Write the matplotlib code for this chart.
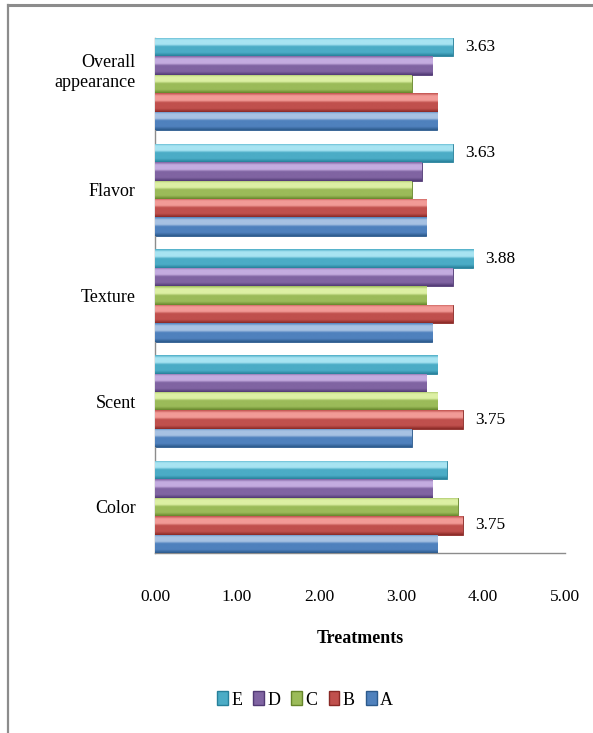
import numpy as np
import matplotlib
matplotlib.use('Agg')
import matplotlib.pyplot as plt
import matplotlib.transforms as mtransforms
from matplotlib.colors import LinearSegmentedColormap
from matplotlib.patches import Patch
from matplotlib.lines import Line2D

plt.rcParams['font.family'] = ['Liberation Serif', 'DejaVu Serif']

# attributes, bottom to top
categories = ['Color', 'Scent', 'Texture', 'Flavor', 'Overall\nappearance']
treatments = ['A', 'B', 'C', 'D', 'E']

A = [3.44, 3.13, 3.38, 3.31, 3.44]
B = [3.75, 3.75, 3.63, 3.31, 3.44]
C = [3.69, 3.44, 3.31, 3.13, 3.13]
D = [3.38, 3.31, 3.63, 3.25, 3.38]
E = [3.56, 3.44, 3.88, 3.63, 3.63]
series = [A, B, C, D, E]

# (category index, treatment index) pairs that carry a value label
labelled = [(0, 1), (1, 1), (2, 4), (3, 4), (4, 4)]

colors = ['#4F81BD', '#C0504D', '#9BBB59', '#8064A2', '#4BACC6']
lights = ['#A7C2E3', '#F29B97', '#DDF0A4', '#C4ACE0', '#A8E4F2']
darks = ['#2C5A8C', '#892926', '#66852B', '#513A74', '#27809A']

fig = plt.figure(figsize=(5.93, 7.33), dpi=100)
ax = fig.add_axes([155/593, 1 - 553/733, 410/593, 515/733])

y = np.arange(len(categories))
h = 0.174
grad = np.linspace(0, 1, 64).reshape(-1, 1)

for i, vals in enumerate(series):
    pos = y + (i - 2) * h
    bars = ax.barh(pos, vals, height=h, color=colors[i], edgecolor=darks[i],
                   linewidth=0.6, zorder=2)
    # beveled look: vertical gradient clipped to each bar
    cmap = LinearSegmentedColormap.from_list(
        f'bev{i}', [(0.0, darks[i]), (0.18, colors[i]), (0.5, colors[i]),
                    (0.62, lights[i]), (0.86, lights[i]), (1.0, colors[i])])
    for bar in bars:
        x0, y0 = bar.get_x(), bar.get_y()
        im = ax.imshow(grad, cmap=cmap, origin='lower', aspect='auto',
                       extent=(x0, x0 + bar.get_width(), y0, y0 + bar.get_height()),
                       zorder=3, interpolation='bilinear')
        im.set_clip_path(bar)

for ci, ti in labelled:
    v = series[ti][ci]
    ax.annotate(f'{v:.2f}', (v, y[ci] + (ti - 2) * h), xytext=(9, 0),
                textcoords='offset points', va='center', ha='left', fontsize=12.5)

ax.set_xlim(0, 5)
ax.set_ylim(-0.435, 4.435)
ax.set_xticks(np.arange(0, 5.01, 1))
ax.set_xticklabels([f'{t:.2f}' for t in np.arange(0, 5.01, 1)], fontsize=12.5)
ax.set_yticks(y)
ax.set_yticklabels(categories, fontsize=13)
ax.tick_params(axis='both', length=0)
ax.tick_params(axis='x', pad=26)
ax.tick_params(axis='y', pad=14)
for lbl in ax.get_yticklabels():
    lbl.set_horizontalalignment('right')
    lbl.set_multialignment('right')
# two-line label sits a little above its group
top = ax.get_yticklabels()[-1]
top.set_transform(top.get_transform() +
                  mtransforms.ScaledTranslation(0, 0.15, fig.dpi_scale_trans))

for s in ['top', 'right']:
    ax.spines[s].set_visible(False)
for s in ['left', 'bottom']:
    ax.spines[s].set_color('#8c8c8c')
    ax.spines[s].set_linewidth(1.0)

ax.set_xlabel('Treatments', fontsize=13, fontweight='bold', labelpad=18)

handles = [Patch(facecolor=colors[i], edgecolor=darks[i]) for i in range(4, -1, -1)]
names = [treatments[i] for i in range(4, -1, -1)]
fig.legend(handles, names, loc='center', bbox_to_anchor=(305/593, 1 - 700/733),
           ncol=5, frameon=False, fontsize=13, handlelength=0.6, handleheight=0.8,
           handletextpad=0.2, columnspacing=0.6)

# outer frame
fig.add_artist(Line2D([7.5/593, 7.5/593], [0, 1 - 5/733], color='#8c8c8c', lw=1.6,
                      transform=fig.transFigure))
fig.add_artist(Line2D([7.5/593, 1], [1 - 5/733, 1 - 5/733], color='#8c8c8c', lw=2.2,
                      transform=fig.transFigure))

fig.savefig('out.png', dpi=100)
